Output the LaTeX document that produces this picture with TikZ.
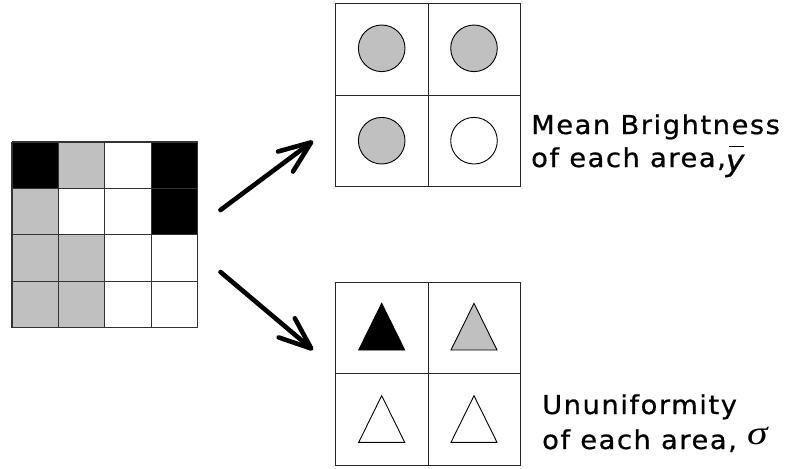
\documentclass[tikz,border=0pt]{standalone}
\usepackage{graphicx}
\usepackage{fontspec}
\newfontfamily\labelfont[FakeStretch=1.05,LetterSpace=6,FakeBold=0.8]{DejaVu Sans}
\newfontfamily\symfont{Liberation Serif}
\usetikzlibrary{arrows.meta}
\definecolor{midgray}{RGB}{192,192,192}
% y with a bar over it, set in the caption font
\newcommand\ybarsym{\leavevmode\raisebox{-4pt}{\scalebox{1.15}{\rlap{\kern0.1em\raisebox{0.8em}{\rule{0.52em}{1.1pt}}}{\itshape y}}}}

\begin{document}
\begin{tikzpicture}[x=1pt,y=-1pt,
  gridline/.style={draw=black!80, line width=1.3pt},
  boxline/.style={draw=black!85, line width=1pt},
  marker/.style={draw=black, line width=0.9pt},
  bigarrow/.style={line width=4.6pt, line cap=round,
    -{Straight Barb[length=32pt,width=25pt,round]}},
  caption/.style={font=\labelfont\fontsize{26}{30}\selectfont,
    anchor=base west, inner sep=0pt}
]
\useasboundingbox (0,0) rectangle (788,469);

% ---- source image: 4x4 pixel grid ----
\def\cw{46.4}
\foreach \row/\colours in {0/{black,midgray,white,black},
                           1/{midgray,white,white,black},
                           2/{midgray,midgray,white,white},
                           3/{midgray,midgray,white,white}}{
  \foreach \c [count=\col from 0] in \colours {
    \fill[\c] (12+\col*\cw,142+\row*\cw) rectangle ++(\cw,\cw);
  }
}
\foreach \i in {0,...,4}{
  \draw[gridline] (12+\i*\cw,142) -- (12+\i*\cw,327.6);
  \draw[gridline] (12,142+\i*\cw) -- (197.6,142+\i*\cw);
}
\node[inner sep=0pt, minimum width=185.6pt, minimum height=185.6pt]
  (img) at (104.8,234.8) {};

% ---- mean brightness panel ----
\node[boxline, inner sep=0pt, minimum width=185pt, minimum height=183.5pt]
  (mean) at (428.3,95) {};
\draw[boxline] (mean.north) -- (mean.south);
\draw[boxline] (mean.west) -- (mean.east);
\node[marker, fill=midgray, circle, minimum size=46.6pt, inner sep=0pt] (m11) at (381.7,48.3) {};
\node[marker, fill=midgray, circle, minimum size=46.6pt, inner sep=0pt] (m12) at (474,48.3) {};
\node[marker, fill=midgray, circle, minimum size=46.6pt, inner sep=0pt] (m21) at (381.7,140.7) {};
\node[marker, fill=white, circle, minimum size=46.6pt, inner sep=0pt] (m22) at (474,140.7) {};

% ---- ununiformity panel ----
\node[boxline, inner sep=0pt, minimum width=185pt, minimum height=183pt]
  (unif) at (428.3,373.5) {};
\draw[boxline] (unif.north) -- (unif.south);
\draw[boxline] (unif.west) -- (unif.east);
\draw[marker, fill=black]   (381.7,303.3) -- (404.7,350) -- (358.7,350) -- cycle;
\draw[marker, fill=midgray] (474,303.3) -- (497,350) -- (451,350) -- cycle;
\draw[marker, fill=white]   (381.7,395.7) -- (404.7,442.3) -- (358.7,442.3) -- cycle;
\draw[marker, fill=white]   (474,395.7) -- (497,442.3) -- (451,442.3) -- cycle;

% ---- arrows ----
\coordinate (upA) at (220.5,210);
\coordinate (upB) at (313,141);
\coordinate (dnA) at (220.5,272);
\coordinate (dnB) at (313,350);
\draw[bigarrow] (upA) -- (upB);
\draw[bigarrow] (dnA) -- (dnB);

% ---- captions ----
\node[caption] (meanT1) at (531,134) {Mean Brightness};
\node[caption] (meanT2) at (531,167) {of each area,\ybarsym};
\node[caption] (unifT1) at (542,414) {Ununiformity};
\node[caption] (unifT2) at (542,449) {of each area, {\symfont\itshape\raisebox{5pt}{\scalebox{1.6}[1.3]{σ}}}};
\end{tikzpicture}
\end{document}
